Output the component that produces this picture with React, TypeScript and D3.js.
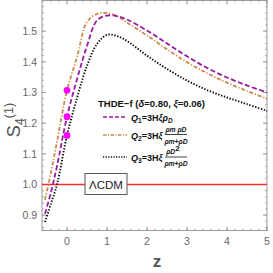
import * as d3 from "d3";

const zs = [-0.55, -0.4, -0.25, 0, 0.25, 0.5, 0.75, 1, 1.25, 1.5, 2, 2.5, 3, 3.5, 4, 4.5, 5];
const q1 = [0.905, 0.975, 1.06, 1.221, 1.343, 1.452, 1.535, 1.551, 1.549, 1.538, 1.502, 1.46, 1.418, 1.38, 1.349, 1.323, 1.3];
const q2 = [0.95, 1.04, 1.14, 1.307, 1.415, 1.53, 1.556, 1.559, 1.549, 1.528, 1.486, 1.441, 1.399, 1.363, 1.332, 1.305, 1.28];
const q3 = [0.878, 0.938, 1.0, 1.16, 1.282, 1.387, 1.458, 1.488, 1.484, 1.468, 1.42, 1.377, 1.339, 1.308, 1.284, 1.262, 1.24];
const todayZ = [0, 0, 0];
const todayS = [1.307, 1.221, 1.16];
const lcdm = 1.0;
const xTicks = [0, 1, 2, 3, 4, 5];
const yTicks = [0.9, 1.0, 1.1, 1.2, 1.3, 1.4, 1.5];

const W = 273, H = 273;
const left = 42, right = 267, top = 0.5, bottom = 230.5;

export default function App() {
  const x = d3.scaleLinear().domain([-0.625, 5]).range([left, right]);
  const y = d3.scaleLinear().domain([0.85, 1.6]).range([bottom, top]);

  const line = (vals: number[]) =>
    d3.line<number>()
      .x((_, i) => x(zs[i]))
      .y(d => y(d))
      .curve(d3.curveCatmullRom.alpha(0.5))(vals) || "";

  const xMinor = d3.range(-0.6, 5.001, 0.2);
  const yMinor = d3.range(0.86, 1.6, 0.02);
  const axisCol = "#9a9a9a";
  const labCol = "#666";

  return (
    <svg width={W} height={H} style={{ position: "absolute", left: 0, top: 0 }}
      fontFamily="Liberation Sans, Arial, sans-serif">
      <rect x={0} y={0} width={W} height={H} fill="white" />
      {/* frame */}
      <rect x={left} y={top} width={right - left} height={bottom - top} fill="none" stroke={axisCol} strokeWidth={1} />
      {/* ticks */}
      {xMinor.map((t, i) => (
        <g key={"xm" + i} stroke={axisCol} strokeWidth={0.8}>
          <line x1={x(t)} x2={x(t)} y1={bottom} y2={bottom - 2} />
          <line x1={x(t)} x2={x(t)} y1={top} y2={top + 2} />
        </g>
      ))}
      {xTicks.map(t => (
        <g key={"x" + t}>
          <line x1={x(t)} x2={x(t)} y1={bottom} y2={bottom - 4} stroke={axisCol} />
          <line x1={x(t)} x2={x(t)} y1={top} y2={top + 4} stroke={axisCol} />
          <text x={x(t)} y={bottom + 14} textAnchor="middle" fontSize={10.5} fill={labCol}>{t}</text>
        </g>
      ))}
      {yMinor.map((t, i) => (
        <g key={"ym" + i} stroke={axisCol} strokeWidth={0.8}>
          <line x1={left} x2={left + 2} y1={y(t)} y2={y(t)} />
          <line x1={right} x2={right - 2} y1={y(t)} y2={y(t)} />
        </g>
      ))}
      {yTicks.map(t => (
        <g key={"y" + t}>
          <line x1={left} x2={left + 4} y1={y(t)} y2={y(t)} stroke={axisCol} />
          <line x1={right} x2={right - 4} y1={y(t)} y2={y(t)} stroke={axisCol} />
          <text x={left - 5} y={y(t) + 3.8} textAnchor="end" fontSize={10.5} fill={labCol}>{t.toFixed(1)}</text>
        </g>
      ))}
      {/* LCDM */}
      <line x1={left} x2={right} y1={y(lcdm)} y2={y(lcdm)} stroke="#ff2a2a" strokeWidth={1.3} />
      {/* curves */}
      <path d={line(q2)} fill="none" stroke="#c98a4b" strokeWidth={1.8} strokeDasharray="4,1.8,1.2,1.8" />
      <path d={line(q1)} fill="none" stroke="#9a1aa6" strokeWidth={1.8} strokeDasharray="5,2.5" />
      <path d={line(q3)} fill="none" stroke="#111" strokeWidth={1.9} strokeDasharray="1.4,1.6" />
      {todayZ.map((z, i) => (
        <circle key={"d" + i} cx={x(z)} cy={y(todayS[i])} r={3.4} fill="#ff00ff" />
      ))}
      {/* LCDM box */}
      <rect x={85} y={173.5} width={42} height={21} fill="white" stroke="#555" strokeWidth={1} />
      <text x={106} y={188.5} textAnchor="middle" fontSize={11.5} fill="#222">ΛCDM</text>
      {/* legend */}
      <g fill="#111" fontWeight="bold">
        <text x={98} y={107} fontSize={9.5}>THDE−f (<tspan fontStyle="italic">δ</tspan>=0.80, <tspan fontStyle="italic">ξ</tspan>=0.06)</text>
        <line x1={103} x2={127} y1={117} y2={117} stroke="#9a1aa6" strokeWidth={1.6} strokeDasharray="4,2" />
        <text x={131} y={120.5} fontSize={9}><tspan fontStyle="italic">Q</tspan><tspan fontSize={6.5} dy={2}>1</tspan><tspan dy={-2}>=3H</tspan><tspan fontStyle="italic">ξρ</tspan><tspan fontSize={6.5} dy={2} fontStyle="italic">D</tspan></text>
        <line x1={103} x2={127} y1={135} y2={135} stroke="#c98a4b" strokeWidth={1.6} strokeDasharray="3.5,1.5,1,1.5" />
        <text x={131} y={138.5} fontSize={9}><tspan fontStyle="italic">Q</tspan><tspan fontSize={6.5} dy={2}>2</tspan><tspan dy={-2}>=3H</tspan><tspan fontStyle="italic">ξ</tspan></text>
        <text x={176} y={132} fontSize={6.8} fontStyle="italic" textAnchor="middle">ρm ρD</text>
        <line x1={165} x2={187} y1={134.5} y2={134.5} stroke="#111" strokeWidth={0.8} />
        <text x={176} y={143.5} fontSize={6.8} fontStyle="italic" textAnchor="middle">ρm+ρD</text>
        <line x1={103} x2={127} y1={157} y2={157} stroke="#111" strokeWidth={1.6} strokeDasharray="1.2,1.4" />
        <text x={131} y={160.5} fontSize={9}><tspan fontStyle="italic">Q</tspan><tspan fontSize={6.5} dy={2}>3</tspan><tspan dy={-2}>=3H</tspan><tspan fontStyle="italic">ξ</tspan></text>
        <text x={173} y={154} fontSize={6.8} fontStyle="italic" textAnchor="middle">ρD<tspan fontStyle="normal" fontSize={8} dy={-3}>2</tspan></text>
        <line x1={165} x2={187} y1={157} y2={157} stroke="#111" strokeWidth={0.8} />
        <text x={176} y={166} fontSize={6.8} fontStyle="italic" textAnchor="middle">ρm+ρD</text>
      </g>
      {/* axis labels */}
      <text transform="translate(20,120) rotate(-90)" textAnchor="middle" fontSize={18} fill="#555">
        S<tspan fontSize={12.5} dy={4}>4</tspan><tspan fontSize={12.5} dy={-11}>(1)</tspan>
      </text>
      <text x={157} y={267} textAnchor="middle" fontSize={17} fontWeight="bold" fill="#555">z</text>
    </svg>
  );
}
